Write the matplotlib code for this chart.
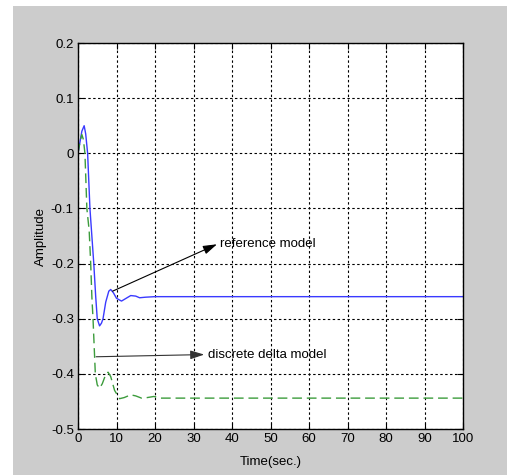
import matplotlib
matplotlib.use('Agg')
import matplotlib.pyplot as plt
from matplotlib.patches import Rectangle

plt.rcParams['font.family'] = ['Liberation Sans', 'DejaVu Sans']

# reference model (solid blue)
t_ref = [0, 0.5, 1.0, 1.6, 2.0, 2.5, 3.1, 3.5, 4.1, 4.6, 5.0, 5.6, 6.1, 6.5, 7.2, 8.0, 8.5,
         9.2, 10.0, 11.3, 12.5, 13.7, 15.0, 16.0, 17.5, 20, 30, 40, 60, 80, 100]
y_ref = [0, 0.02, 0.04, 0.05, 0.035, 0.0, -0.1, -0.14, -0.2, -0.26, -0.3, -0.313, -0.308, -0.3,
         -0.27, -0.25, -0.247, -0.253, -0.263, -0.268, -0.263, -0.258, -0.259, -0.262, -0.261,
         -0.260, -0.260, -0.260, -0.260, -0.260, -0.260]

# discrete delta model (dashed green)
t_del = [0, 0.5, 1.0, 1.4, 1.8, 2.3, 2.9, 3.3, 3.6, 3.9, 4.5, 5.0, 5.6, 6.3, 7.0, 7.8, 8.5,
         9.5, 10.8, 12.0, 13.7, 15.0, 16.5, 18.0, 19.7, 21.5, 30, 40, 60, 80, 100]
y_del = [0, 0.02, 0.034, 0.025, 0.0, -0.1, -0.14, -0.2, -0.26, -0.3, -0.4, -0.42, -0.426,
         -0.418, -0.405, -0.397, -0.405, -0.43, -0.445, -0.443, -0.438, -0.44, -0.444, -0.443,
         -0.441, -0.444, -0.444, -0.444, -0.444, -0.444, -0.444]

xticks = list(range(0, 101, 10))
yticks = [0.2, 0.1, 0, -0.1, -0.2, -0.3, -0.4, -0.5]
ytick_labels = ['0.2', '0.1', '0', '-0.1', '-0.2', '-0.3', '-0.4', '-0.5']

fs = 9.5

fig = plt.figure(figsize=(5.07, 4.75), dpi=100)
fig.patch.set_facecolor('white')
# gray MATLAB-like figure background
fig.patches.append(Rectangle((13 / 507, 0), 1, 1 - 6 / 475, transform=fig.transFigure,
                             facecolor='#cccccc', edgecolor='none', zorder=-10))

ax = fig.add_axes([78 / 507, 1 - 429 / 475, (463 - 78) / 507, (429 - 43) / 475])
ax.set_facecolor('white')

ax.plot(t_ref, y_ref, color='#3a3aff', lw=1.0)
ax.plot(t_del, y_del, color='#3c9c3c', lw=1.0, dashes=(7, 3.5))

ax.set_xlim(0, 100)
ax.set_ylim(-0.5, 0.2)
ax.set_xticks(xticks)
ax.set_yticks(yticks)
ax.set_yticklabels(ytick_labels)
ax.tick_params(direction='in', length=4, labelsize=fs, top=True, right=True, pad=3)
for s in ax.spines.values():
    s.set_linewidth(1.0)
ax.grid(True, color='black', lw=0.8, dashes=(2.2, 2.2))

ax.set_xlabel('Time(sec.)', fontsize=fs, labelpad=8)
ax.set_ylabel('Amplitude', fontsize=fs, labelpad=3)

# arrows point from the curves towards the labels
arrow = dict(arrowstyle='-|>,head_length=0.7,head_width=0.22', color='black', lw=0.8,
             shrinkA=0, shrinkB=0, mutation_scale=12)
ax.annotate('', xy=(36.1, -0.165), xytext=(9, -0.25), arrowprops=arrow)
ax.text(36.9, -0.165, 'reference model', fontsize=fs, va='center', ha='left')

arrow2 = dict(arrow, color='#333333')
ax.annotate('', xy=(32.8, -0.365), xytext=(4.7, -0.369), arrowprops=arrow2)
ax.text(33.8, -0.365, 'discrete delta model', fontsize=fs, va='center', ha='left')

fig.savefig('out.png', dpi=100, facecolor=fig.get_facecolor())
